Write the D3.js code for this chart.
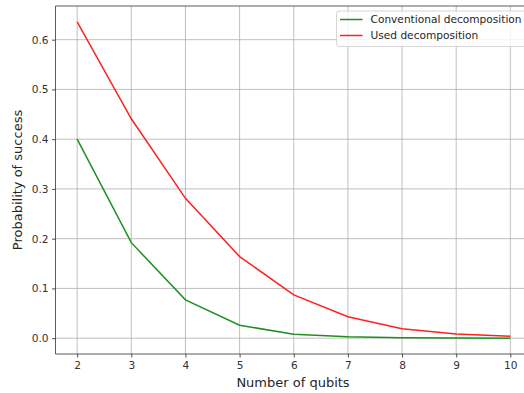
<!DOCTYPE html>
<meta charset="utf-8">
<head>
  <title>success probability</title>
</head>
<style>
  body { margin: 0; background: #fff; }
  svg { display: block; font-family: "DejaVu Sans", sans-serif; }
</style>
<body>
  <svg width="524" height="393"></svg>

  <script src="https://cdnjs.cloudflare.com/ajax/libs/d3/7.8.5/d3.min.js"></script>
  <script>
    var qubits = [2, 3, 4, 5, 6, 7, 8, 9, 10];
    var conventional = [0.400, 0.192, 0.077, 0.026, 0.008, 0.003, 0.001, 0.0004, 0.0001];
    var used = [0.636, 0.441, 0.281, 0.164, 0.087, 0.043, 0.019, 0.0085, 0.004];
    var yTicks = [0.0, 0.1, 0.2, 0.3, 0.4, 0.5, 0.6];

    var series = [
      { name: 'Conventional decomposition', values: conventional, color: '#1f8f1f' },
      { name: 'Used decomposition', values: used, color: '#ff2020' }
    ];

    var mLeft = 55.5, mTop = 6, mRight = 532, mBottom = 354;

    var svg = d3.select('svg');

    var x = d3.scaleLinear().domain([1.6, 10.4]).range([mLeft, mRight]);
    var y = d3.scaleLinear().domain([-0.0318, 0.6677]).range([mBottom, mTop]);

    // grid
    var grid = svg.append('g');
    grid.selectAll('.gx').data(qubits).enter().append('line')
      .attr('x1', function(d) { return x(d); })
      .attr('x2', function(d) { return x(d); })
      .attr('y1', mTop).attr('y2', mBottom)
      .attr('stroke', '#b0b0b0').attr('stroke-width', 0.8);
    grid.selectAll('.gy').data(yTicks).enter().append('line')
      .attr('y1', function(d) { return y(d); })
      .attr('y2', function(d) { return y(d); })
      .attr('x1', mLeft).attr('x2', mRight)
      .attr('stroke', '#b0b0b0').attr('stroke-width', 0.8);

    // lines
    var line = d3.line()
      .x(function(d, i) { return x(qubits[i]); })
      .y(function(d) { return y(d); });

    svg.selectAll('.series').data(series).enter().append('path')
      .attr('d', function(d) { return line(d.values); })
      .attr('fill', 'none')
      .attr('stroke', function(d) { return d.color; })
      .attr('stroke-width', 1.5);

    // axes
    var xAxis = d3.axisBottom(x).tickValues(qubits).tickSize(3.5).tickPadding(3.5)
      .tickFormat(d3.format('d'));
    var yAxis = d3.axisLeft(y).tickValues(yTicks).tickSize(3.5).tickPadding(3.5)
      .tickFormat(d3.format('.1f'));

    var gx = svg.append('g').attr('transform', 'translate(0,' + mBottom + ')').call(xAxis);
    var gy = svg.append('g').attr('transform', 'translate(' + mLeft + ',0)').call(yAxis);
    [gx, gy].forEach(function(g) {
      g.select('.domain').remove();
      g.selectAll('.tick line').attr('stroke', '#262626').attr('stroke-width', 0.8);
      g.selectAll('.tick text').attr('fill', '#333333')
        .style('font-family', '"DejaVu Sans", sans-serif').style('font-size', '10.6px');
    });

    // spines
    svg.append('line').attr('x1', mLeft).attr('x2', mLeft).attr('y1', mTop).attr('y2', mBottom)
      .attr('stroke', '#333333').attr('stroke-width', 0.8);
    svg.append('line').attr('x1', mLeft).attr('x2', mRight).attr('y1', mBottom).attr('y2', mBottom)
      .attr('stroke', '#333333').attr('stroke-width', 0.8);
    svg.append('line').attr('x1', mLeft).attr('x2', mRight).attr('y1', mTop).attr('y2', mTop)
      .attr('stroke', '#333333').attr('stroke-width', 0.8);

    // axis labels
    svg.append('text').attr('x', 293).attr('y', 387)
      .attr('text-anchor', 'middle').attr('font-size', 13).attr('fill', '#262626')
      .text('Number of qubits');
    svg.append('text')
      .attr('transform', 'translate(22,' + ((mTop + mBottom) / 2) + ') rotate(-90)')
      .attr('text-anchor', 'middle').attr('font-size', 13).attr('fill', '#262626')
      .text('Probability of success');

    // legend
    var lg = svg.append('g').attr('transform', 'translate(336.5,11)');
    lg.append('rect').attr('width', 200).attr('height', 35.5).attr('rx', 2.5)
      .attr('fill', 'white').attr('fill-opacity', 0.8)
      .attr('stroke', '#cccccc').attr('stroke-width', 0.8);
    var item = lg.selectAll('.item').data(series).enter().append('g')
      .attr('transform', function(d, i) { return 'translate(0,' + (8.5 + i * 16) + ')'; });
    item.append('line').attr('x1', 3.5).attr('x2', 26)
      .attr('stroke', function(d) { return d.color; }).attr('stroke-width', 1.5);
    item.append('text').attr('x', 34).attr('dy', '0.35em')
      .attr('font-size', 10.6).attr('fill', '#262626')
      .text(function(d) { return d.name; });
  </script>
</body>
</html>
